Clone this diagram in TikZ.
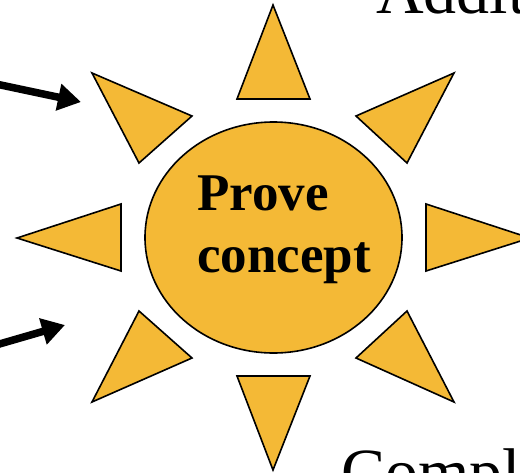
\documentclass[tikz,border=0pt]{standalone}
\usepackage{fontspec}
\setmainfont{Liberation Serif}
\usepackage{tikz}
\usetikzlibrary{arrows.meta}

\definecolor{sunyellow}{RGB}{244,185,54}

\begin{document}
\begin{tikzpicture}[
  x=1pt, y=-1pt,
  ray/.style={draw=black, line width=1.6pt, fill=sunyellow, line join=miter},
  core/.style={draw=black, line width=1.6pt, fill=sunyellow},
  inarrow/.style={draw=black, line width=7.5pt, -{Triangle[length=23pt, width=26pt]}},
  lbl/.style={font=\fontsize{53}{60}\selectfont\bfseries, inner sep=0pt, anchor=base west},
  side/.style={font=\fontsize{66}{70}\selectfont, inner sep=0pt, anchor=base west}
]
\useasboundingbox (0,0) rectangle (520,472);
\clip (0,0) rectangle (520,472);

\draw[core] (273.5,237.5) ellipse [x radius=128.5, y radius=115.5];

\draw[ray] (273,5) -- (310,99) -- (237,99) -- cycle;
\draw[ray] (92,73) -- (192,116) -- (139,163) -- cycle;
\draw[ray] (454,73) -- (356,116) -- (407,163) -- cycle;
\draw[ray] (17,238) -- (121,204) -- (121,271) -- cycle;
\draw[ray] (530,238) -- (426,204) -- (426,271) -- cycle;
\draw[ray] (92,402) -- (192,358) -- (139,311) -- cycle;
\draw[ray] (454,402) -- (356,358) -- (407,311) -- cycle;
\draw[ray] (273,470) -- (310,376) -- (237,376) -- cycle;

\node[lbl] (prove) at (197,210) {Prove};
\node[lbl] (concept) at (197,272) {concept};

\node[side] (addit) at (376,13) {Addit};
\node[side] (compl) at (341,494) {Compl};

\coordinate (in1s) at (-4,84);
\coordinate (in1e) at (81,102);
\coordinate (in2s) at (-4,345);
\coordinate (in2e) at (65,325);
\draw[inarrow] (in1s) -- (in1e);
\draw[inarrow] (in2s) -- (in2e);

\end{tikzpicture}
\end{document}
